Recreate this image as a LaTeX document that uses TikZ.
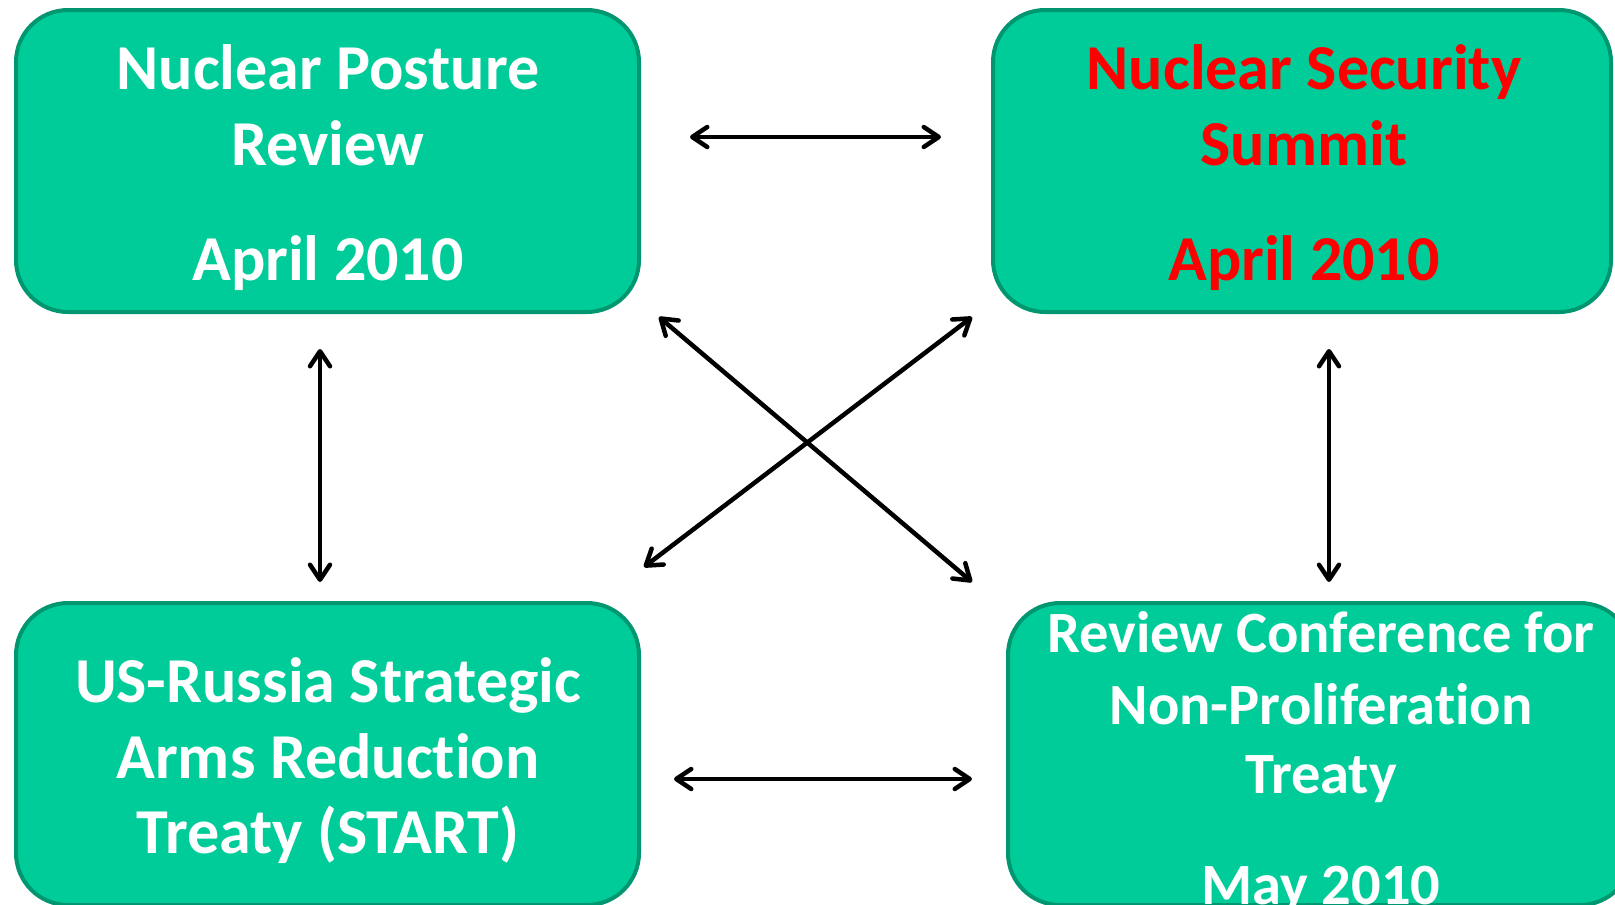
\documentclass[tikz,border=0pt]{standalone}
\usepackage{fontspec}
\setmainfont{Carlito}[Ligatures=NoCommon]
\usetikzlibrary{arrows.meta}
\definecolor{boxfill}{RGB}{0,204,153}
\definecolor{boxline}{RGB}{0,150,112}
\begin{document}
\begin{tikzpicture}[x=1pt,y=-1pt,
  box/.style={draw=boxline, fill=boxfill, line width=4pt, rounded corners=52pt,
    inner sep=0pt, minimum width=#1},
  box/.default=623pt,
  lbl/.style={anchor=base, inner sep=0pt, text=white,
    font=\bfseries\fontsize{64}{64}\selectfont},
  smalllbl/.style={lbl, font=\bfseries\fontsize{58.5}{58.5}\selectfont},
  redlbl/.style={lbl, text=red},
  link/.style={draw=black, line width=4.5pt, line cap=round,
    {Straight Barb[length=15pt,width=20pt,line width=4.5pt,round]}-{Straight Barb[length=15pt,width=20pt,line width=4.5pt,round]}}
]
\clip (0,0) rectangle (1615,905);
\fill[white] (0,0) rectangle (1615,905);

% boxes
\node[box=623pt, minimum height=302pt] (b1) at (327.5,161) {};
\node[box=618pt, minimum height=302pt] (b2) at (1302,161) {};
\node[box=623pt, minimum height=302pt] (b3) at (327.5,754) {};
\node[box=624pt, minimum height=302pt] (b4) at (1320,754) {};

% texts
\node[lbl] (t1a) at (328,89) {Nuclear Posture};
\node[lbl] (t1b) at (328,165) {Review};
\node[lbl] (t1c) at (328,280) {April 2010};

\node[redlbl] (t2a) at (1304,89) {Nuclear Security};
\node[redlbl] (t2b) at (1304,165) {Summit};
\node[redlbl] (t2c) at (1304,280) {April 2010};

\node[lbl] (t3a) at (328,702) {US-Russia Strategic};
\node[lbl] (t3b) at (328,778) {Arms Reduction};
\node[lbl] (t3c) at (328,853) {Treaty (START)};

\node[smalllbl] (t4a) at (1321,652) {Review Conference for};
\node[smalllbl] (t4b) at (1321,724) {Non-Proliferation};
\node[smalllbl] (t4c) at (1321,793) {Treaty};
\node[smalllbl] (t4d) at (1321,904) {May 2010};

% arrow end points
\coordinate (h1a) at (690,137);
\coordinate (h1b) at (941,137);
\coordinate (h2a) at (674,779);
\coordinate (h2b) at (972,779);
\coordinate (v1a) at (320,349);
\coordinate (v1b) at (320,582);
\coordinate (v2a) at (1329,349);
\coordinate (v2b) at (1329,582);
\coordinate (d1a) at (659,317);
\coordinate (d1b) at (972,582);
\coordinate (d2a) at (972,317);
\coordinate (d2b) at (644,567);

\draw[link] (h1a) -- (h1b);
\draw[link] (h2a) -- (h2b);
\draw[link] (v1a) -- (v1b);
\draw[link] (v2a) -- (v2b);
\draw[link] (d1a) -- (d1b);
\draw[link] (d2a) -- (d2b);
\end{tikzpicture}
\end{document}
